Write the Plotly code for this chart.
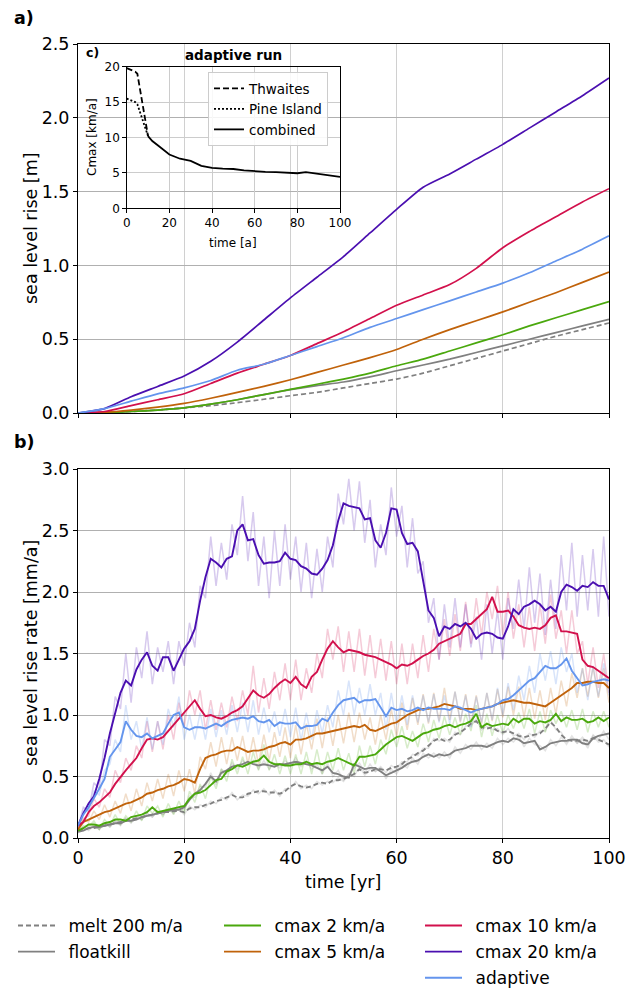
import plotly.graph_objects as go

FONT = "DejaVu Sans"

# ---------------- panel a: cumulative sea level rise [m] ----------------
years_a = [0, 5, 10, 15, 20, 25, 30, 35, 40, 45, 50, 55, 60, 65, 70, 75, 80, 85, 90, 95, 100]
a_melt = [0, 0.003, 0.01, 0.02, 0.035, 0.05, 0.07, 0.093, 0.117, 0.14, 0.17, 0.20, 0.23, 0.27, 0.32, 0.37, 0.42, 0.47, 0.52, 0.565, 0.61]
a_floatkill = [0, 0.003, 0.01, 0.02, 0.035, 0.06, 0.09, 0.125, 0.158, 0.185, 0.21, 0.245, 0.286, 0.325, 0.365, 0.41, 0.455, 0.50, 0.545, 0.59, 0.635]
a_cmax2 = [0, 0.003, 0.01, 0.02, 0.035, 0.06, 0.09, 0.125, 0.16, 0.195, 0.23, 0.27, 0.32, 0.365, 0.42, 0.475, 0.53, 0.59, 0.645, 0.70, 0.755]
a_cmax5 = [0, 0.005, 0.02, 0.04, 0.065, 0.10, 0.14, 0.18, 0.225, 0.275, 0.325, 0.375, 0.43, 0.50, 0.565, 0.625, 0.685, 0.75, 0.815, 0.885, 0.955]
a_cmax10 = [0, 0.01, 0.05, 0.09, 0.13, 0.20, 0.27, 0.33, 0.39, 0.47, 0.55, 0.64, 0.73, 0.80, 0.87, 0.98, 1.12, 1.23, 1.33, 1.43, 1.52]
a_cmax20 = [0, 0.03, 0.11, 0.18, 0.25, 0.35, 0.48, 0.63, 0.78, 0.92, 1.06, 1.22, 1.38, 1.53, 1.62, 1.72, 1.82, 1.93, 2.04, 2.15, 2.27]
a_adaptive = [0, 0.03, 0.08, 0.13, 0.17, 0.22, 0.29, 0.33, 0.39, 0.45, 0.51, 0.58, 0.64, 0.70, 0.76, 0.82, 0.88, 0.95, 1.03, 1.11, 1.20]

# ---------------- panel b: sea level rise rate [mm/a] ----------------
years_b = list(range(0, 101))
b_melt = [0.06, 0.07, 0.08, 0.08, 0.09, 0.10, 0.11, 0.12, 0.13, 0.14, 0.15, 0.16, 0.17, 0.18, 0.19, 0.20, 0.21, 0.21, 0.22, 0.22,
          0.21, 0.24, 0.25, 0.25, 0.27, 0.28, 0.30, 0.31, 0.33, 0.35, 0.33, 0.33, 0.36, 0.37, 0.38, 0.38, 0.37, 0.37, 0.36, 0.38,
          0.42, 0.44, 0.42, 0.41, 0.42, 0.44, 0.45, 0.44, 0.47, 0.47, 0.48, 0.50, 0.52, 0.56, 0.53, 0.54, 0.56, 0.56, 0.55, 0.57,
          0.58, 0.60, 0.64, 0.66, 0.69, 0.71, 0.75, 0.79, 0.81, 0.79, 0.80, 0.84, 0.86, 0.89, 0.93, 0.95, 0.90, 0.89, 0.90, 0.87,
          0.86, 0.87, 0.85, 0.83, 0.82, 0.83, 0.84, 0.85, 0.89, 0.94, 0.90, 0.84, 0.80, 0.79, 0.79, 0.80, 0.79, 0.81, 0.80, 0.78, 0.76]
b_floatkill = [0.05, 0.06, 0.08, 0.09, 0.09, 0.10, 0.11, 0.12, 0.12, 0.14, 0.14, 0.15, 0.17, 0.18, 0.19, 0.20, 0.21, 0.22, 0.23, 0.23,
               0.25, 0.31, 0.36, 0.39, 0.44, 0.50, 0.46, 0.53, 0.55, 0.58, 0.59, 0.60, 0.62, 0.60, 0.59, 0.60, 0.59, 0.58, 0.60, 0.60,
               0.61, 0.62, 0.61, 0.60, 0.59, 0.57, 0.55, 0.58, 0.53, 0.52, 0.50, 0.49, 0.60, 0.58, 0.56, 0.57, 0.57, 0.54, 0.51, 0.53,
               0.55, 0.57, 0.60, 0.62, 0.63, 0.66, 0.68, 0.66, 0.68, 0.67, 0.68, 0.71, 0.72, 0.73, 0.75, 0.75, 0.75, 0.74, 0.76, 0.78,
               0.79, 0.78, 0.81, 0.80, 0.77, 0.78, 0.79, 0.72, 0.74, 0.77, 0.78, 0.79, 0.79, 0.80, 0.80, 0.77, 0.76, 0.81, 0.83, 0.84, 0.85]
b_cmax2 = [0.06, 0.08, 0.11, 0.11, 0.10, 0.12, 0.13, 0.15, 0.15, 0.14, 0.17, 0.18, 0.19, 0.21, 0.25, 0.21, 0.22, 0.23, 0.24, 0.25,
           0.26, 0.32, 0.36, 0.37, 0.39, 0.43, 0.47, 0.48, 0.54, 0.56, 0.59, 0.58, 0.60, 0.62, 0.63, 0.67, 0.62, 0.60, 0.60, 0.59,
           0.59, 0.60, 0.60, 0.62, 0.60, 0.61, 0.60, 0.62, 0.63, 0.65, 0.63, 0.61, 0.59, 0.66, 0.66, 0.67, 0.68, 0.72, 0.76, 0.79,
           0.82, 0.83, 0.81, 0.79, 0.82, 0.85, 0.86, 0.88, 0.89, 0.91, 0.92, 0.90, 0.92, 0.93, 0.95, 1.01, 0.90, 0.93, 0.91, 0.92,
           0.93, 0.92, 0.97, 0.94, 0.97, 0.97, 0.93, 0.95, 0.94, 0.96, 1.01, 0.95, 0.98, 0.96, 0.96, 0.97, 0.94, 0.95, 0.98, 0.95, 0.98]
b_cmax5 = [0.07, 0.13, 0.15, 0.17, 0.19, 0.21, 0.22, 0.24, 0.26, 0.28, 0.29, 0.31, 0.33, 0.36, 0.37, 0.39, 0.40, 0.42, 0.43, 0.45,
           0.48, 0.47, 0.45, 0.56, 0.65, 0.67, 0.68, 0.70, 0.71, 0.71, 0.74, 0.72, 0.70, 0.71, 0.71, 0.72, 0.74, 0.75, 0.77, 0.78,
           0.76, 0.80, 0.80, 0.81, 0.83, 0.85, 0.85, 0.86, 0.87, 0.88, 0.89, 0.90, 0.91, 0.90, 0.92, 0.88, 0.87, 0.89, 0.91, 0.93,
           0.94, 0.97, 1.00, 1.02, 1.04, 1.05, 1.05, 1.06, 1.07, 1.09, 1.08, 1.07, 1.05, 1.05, 1.05, 1.04, 1.05, 1.06, 1.07, 1.09,
           1.10, 1.11, 1.12, 1.11, 1.10, 1.10, 1.09, 1.08, 1.07, 1.10, 1.13, 1.16, 1.19, 1.22, 1.26, 1.26, 1.27, 1.27, 1.26, 1.26, 1.22]
b_cmax10 = [0.10, 0.13, 0.21, 0.26, 0.29, 0.33, 0.37, 0.44, 0.50, 0.55, 0.60, 0.65, 0.73, 0.80, 0.81, 0.80, 0.82, 0.87, 0.92, 0.97,
            1.02, 1.07, 1.12, 1.05, 0.99, 1.00, 0.98, 0.97, 0.99, 1.02, 1.04, 1.07, 1.14, 1.20, 1.16, 1.14, 1.17, 1.22, 1.26, 1.29,
            1.26, 1.31, 1.25, 1.22, 1.31, 1.35, 1.45, 1.54, 1.60, 1.55, 1.51, 1.53, 1.52, 1.51, 1.49, 1.48, 1.47, 1.45, 1.43, 1.41,
            1.38, 1.41, 1.40, 1.42, 1.45, 1.48, 1.50, 1.53, 1.58, 1.60, 1.62, 1.64, 1.66, 1.74, 1.74, 1.78, 1.82, 1.86, 1.96, 1.84,
            1.84, 1.85, 1.80, 1.73, 1.71, 1.70, 1.71, 1.70, 1.73, 1.79, 1.81, 1.68, 1.68, 1.67, 1.66, 1.45, 1.40, 1.39, 1.36, 1.33, 1.30]
b_cmax20 = [0.10, 0.20, 0.28, 0.34, 0.48, 0.65, 0.85, 1.02, 1.18, 1.28, 1.24, 1.37, 1.45, 1.51, 1.40, 1.36, 1.47, 1.47, 1.36, 1.45,
            1.54, 1.60, 1.70, 1.93, 2.12, 2.27, 2.24, 2.20, 2.27, 2.29, 2.50, 2.55, 2.42, 2.43, 2.30, 2.23, 2.24, 2.24, 2.25, 2.32,
            2.27, 2.26, 2.21, 2.19, 2.15, 2.14, 2.19, 2.26, 2.38, 2.58, 2.72, 2.70, 2.69, 2.68, 2.59, 2.60, 2.42, 2.36, 2.48, 2.68,
            2.67, 2.48, 2.39, 2.40, 2.33, 2.08, 1.85, 1.79, 1.64, 1.72, 1.70, 1.74, 1.72, 1.75, 1.70, 1.62, 1.66, 1.67, 1.66, 1.63,
            1.62, 1.72, 1.86, 1.82, 1.88, 1.90, 1.93, 1.90, 1.85, 1.88, 1.84, 2.00, 2.06, 2.04, 2.01, 2.05, 2.04, 2.08, 2.05, 2.05, 1.94]
b_adaptive = [0.10, 0.19, 0.25, 0.32, 0.40, 0.48, 0.66, 0.72, 0.78, 0.95, 0.88, 0.83, 0.82, 0.85, 0.81, 0.83, 0.85, 0.93, 1.00, 1.02,
              0.90, 0.88, 0.90, 0.90, 0.89, 0.91, 0.93, 0.91, 0.94, 0.96, 0.97, 0.98, 0.97, 0.99, 0.95, 0.94, 0.96, 0.91, 0.94, 0.93,
              0.93, 0.94, 0.89, 0.91, 0.91, 0.92, 0.97, 0.95, 1.02, 1.08, 1.12, 1.13, 1.14, 1.10, 1.12, 1.12, 1.13, 1.06, 0.99, 1.06,
              1.04, 1.05, 1.03, 1.04, 1.06, 1.04, 1.06, 1.05, 1.05, 1.05, 1.04, 1.07, 1.06, 1.04, 1.02, 1.04, 1.05, 1.06, 1.07, 1.09,
              1.12, 1.13, 1.16, 1.20, 1.24, 1.28, 1.30, 1.35, 1.40, 1.38, 1.38, 1.41, 1.46, 1.36, 1.30, 1.24, 1.25, 1.27, 1.28, 1.29, 1.28]

# raw (unsmoothed) rates, drawn faintly behind
r_melt = [0.05, 0.09, 0.06, 0.10, 0.07, 0.12, 0.09, 0.14, 0.11, 0.16, 0.13, 0.18, 0.15, 0.20, 0.17, 0.22, 0.19, 0.23, 0.20, 0.24,
          0.19, 0.26, 0.23, 0.27, 0.25, 0.30, 0.28, 0.33, 0.31, 0.37, 0.31, 0.35, 0.34, 0.39, 0.36, 0.40, 0.35, 0.39, 0.34, 0.40,
          0.40, 0.46, 0.40, 0.43, 0.40, 0.46, 0.43, 0.46, 0.45, 0.49, 0.46, 0.52, 0.50, 0.58, 0.51, 0.56, 0.54, 0.58, 0.53, 0.59,
          0.56, 0.62, 0.62, 0.68, 0.67, 0.73, 0.73, 0.81, 0.79, 0.81, 0.78, 0.86, 0.84, 0.91, 0.91, 0.97, 0.88, 0.91, 0.88, 0.89,
          0.84, 0.89, 0.83, 0.85, 0.80, 0.85, 0.82, 0.87, 0.87, 0.96, 0.88, 0.86, 0.78, 0.81, 0.77, 0.82, 0.77, 0.83, 0.78, 0.80, 0.74]
r_floatkill = [0.04, 0.08, 0.07, 0.11, 0.07, 0.12, 0.09, 0.14, 0.10, 0.16, 0.12, 0.17, 0.15, 0.20, 0.17, 0.22, 0.19, 0.24, 0.21, 0.25,
               0.23, 0.34, 0.33, 0.42, 0.41, 0.53, 0.43, 0.56, 0.52, 0.61, 0.56, 0.63, 0.59, 0.63, 0.56, 0.63, 0.56, 0.61, 0.57, 0.63,
               0.58, 0.65, 0.58, 0.63, 0.56, 0.60, 0.52, 0.61, 0.50, 0.55, 0.47, 0.52, 0.57, 0.61, 0.53, 0.60, 0.54, 0.57, 0.48, 0.56,
               0.52, 0.60, 0.57, 0.65, 0.60, 0.69, 0.65, 0.69, 0.65, 0.70, 0.65, 0.74, 0.69, 0.76, 0.72, 0.78, 0.72, 0.77, 0.73, 0.81,
               0.76, 0.81, 0.78, 0.83, 0.74, 0.81, 0.76, 0.75, 0.71, 0.80, 0.75, 0.82, 0.76, 0.83, 0.77, 0.80, 0.73, 0.84, 0.80, 0.87, 0.80]
r_cmax2 = [0.05, 0.10, 0.09, 0.14, 0.07, 0.15, 0.10, 0.19, 0.11, 0.18, 0.13, 0.22, 0.14, 0.26, 0.20, 0.26, 0.17, 0.28, 0.19, 0.30,
           0.20, 0.38, 0.29, 0.44, 0.32, 0.50, 0.40, 0.56, 0.46, 0.64, 0.52, 0.66, 0.52, 0.70, 0.55, 0.76, 0.55, 0.68, 0.52, 0.67,
           0.52, 0.68, 0.52, 0.70, 0.52, 0.72, 0.52, 0.70, 0.55, 0.73, 0.55, 0.69, 0.52, 0.75, 0.58, 0.75, 0.60, 0.80, 0.68, 0.88,
           0.74, 0.91, 0.73, 0.87, 0.74, 0.93, 0.78, 0.96, 0.81, 0.99, 0.84, 0.98, 0.84, 1.01, 0.87, 1.08, 0.82, 1.01, 0.83, 1.00,
           0.85, 1.00, 0.89, 1.02, 0.89, 1.05, 0.85, 1.03, 0.86, 1.04, 0.93, 1.03, 0.90, 1.04, 0.88, 1.05, 0.86, 1.03, 0.90, 1.03, 0.90]
r_cmax5 = [0.06, 0.15, 0.13, 0.22, 0.15, 0.27, 0.17, 0.30, 0.20, 0.36, 0.22, 0.40, 0.26, 0.45, 0.30, 0.48, 0.32, 0.52, 0.34, 0.55,
           0.38, 0.56, 0.36, 0.66, 0.56, 0.78, 0.58, 0.82, 0.60, 0.82, 0.63, 0.83, 0.60, 0.82, 0.60, 0.84, 0.63, 0.86, 0.66, 0.90,
           0.65, 0.92, 0.68, 0.93, 0.72, 0.97, 0.73, 0.98, 0.75, 1.00, 0.77, 1.02, 0.78, 1.02, 0.80, 0.98, 0.76, 1.00, 0.80, 1.05,
           0.82, 1.10, 0.88, 1.14, 0.92, 1.17, 0.93, 1.18, 0.95, 1.22, 0.96, 1.19, 0.94, 1.17, 0.93, 1.16, 0.93, 1.18, 0.95, 1.21,
           0.98, 1.23, 1.00, 1.23, 0.98, 1.22, 0.97, 1.20, 0.96, 1.22, 1.01, 1.28, 1.07, 1.34, 1.14, 1.38, 1.15, 1.39, 1.14, 1.38, 1.10]
r_cmax10 = [0.09, 0.16, 0.18, 0.32, 0.25, 0.40, 0.33, 0.55, 0.45, 0.65, 0.55, 0.75, 0.65, 0.95, 0.70, 0.95, 0.72, 1.00, 0.80, 1.10,
            0.90, 1.20, 1.00, 1.20, 0.88, 1.12, 0.88, 1.10, 0.90, 1.15, 0.95, 1.20, 1.00, 1.40, 1.02, 1.30, 1.05, 1.35, 1.12, 1.42,
            1.12, 1.45, 1.12, 1.38, 1.18, 1.50, 1.30, 1.70, 1.45, 1.72, 1.35, 1.68, 1.35, 1.70, 1.32, 1.65, 1.30, 1.62, 1.28, 1.60,
            1.25, 1.58, 1.25, 1.58, 1.30, 1.65, 1.35, 1.70, 1.45, 1.78, 1.48, 1.82, 1.52, 1.92, 1.58, 1.95, 1.65, 2.00, 1.78, 2.05,
            1.65, 2.00, 1.62, 1.90, 1.55, 1.88, 1.52, 1.90, 1.58, 1.98, 1.62, 1.85, 1.50, 1.85, 1.50, 1.60, 1.25, 1.55, 1.22, 1.50, 1.18]
r_cmax20 = [0.08, 0.25, 0.22, 0.45, 0.40, 0.80, 0.75, 1.15, 1.05, 1.50, 1.10, 1.55, 1.30, 1.68, 1.25, 1.55, 1.35, 1.60, 1.25, 1.60,
            1.40, 1.75, 1.55, 2.05, 1.95, 2.45, 2.05, 2.40, 2.10, 2.55, 2.30, 2.78, 2.25, 2.65, 2.05, 2.45, 1.95, 2.50, 2.05, 2.55,
            2.10, 2.45, 2.00, 2.40, 1.95, 2.35, 2.00, 2.45, 2.20, 2.80, 2.55, 2.92, 2.50, 2.90, 2.40, 2.75, 2.20, 2.55, 2.30, 2.85,
            2.45, 2.70, 2.20, 2.60, 2.15, 2.25, 1.75, 1.95, 1.45, 1.90, 1.55, 1.95, 1.55, 1.90, 1.55, 1.80, 1.45, 1.90, 1.50, 1.85,
            1.45, 1.95, 1.70, 2.10, 1.70, 2.20, 1.75, 2.15, 1.65, 2.10, 1.70, 2.30, 1.85, 2.40, 1.80, 2.30, 1.85, 2.35, 1.80, 2.45, 1.80]
r_adaptive = [0.09, 0.22, 0.22, 0.38, 0.35, 0.55, 0.60, 0.80, 0.70, 1.08, 0.80, 0.95, 0.72, 0.98, 0.72, 0.95, 0.76, 1.05, 0.90, 1.15,
              0.80, 1.00, 0.80, 1.02, 0.80, 1.05, 0.82, 1.04, 0.84, 1.08, 0.86, 1.10, 0.86, 1.12, 0.84, 1.06, 0.86, 1.03, 0.83, 1.05,
              0.82, 1.06, 0.79, 1.02, 0.80, 1.04, 0.85, 1.08, 0.90, 1.20, 1.00, 1.28, 1.00, 1.22, 1.00, 1.25, 1.00, 1.18, 0.88, 1.18,
              0.92, 1.16, 0.92, 1.16, 0.94, 1.16, 0.94, 1.17, 0.94, 1.16, 0.93, 1.19, 0.95, 1.16, 0.90, 1.15, 0.94, 1.18, 0.96, 1.22,
              1.00, 1.26, 1.04, 1.32, 1.12, 1.40, 1.18, 1.50, 1.28, 1.52, 1.25, 1.55, 1.35, 1.50, 1.18, 1.38, 1.12, 1.40, 1.15, 1.42, 1.16]

# ---------------- inset c: adaptive run Cmax [km/a] ----------------
c_thw_t = [0, 4, 5, 10]
c_thw = [19.8, 19.3, 19.0, 10.2]
c_pig_t = [0, 4, 5, 10]
c_pig = [15.5, 15.0, 14.7, 10.2]
c_comb_t = [10, 12, 15, 20, 25, 30, 35, 40, 45, 50, 55, 60, 65, 70, 75, 80, 84, 90, 95, 100]
c_comb = [10.2, 9.5, 8.8, 7.6, 7.0, 6.7, 6.0, 5.7, 5.6, 5.55, 5.35, 5.2, 5.15, 5.1, 5.05, 4.95, 5.1, 4.85, 4.65, 4.45]

names = ["melt 200 m/a", "floatkill", "cmax 2 km/a", "cmax 5 km/a", "cmax 10 km/a", "cmax 20 km/a", "adaptive"]
colors = ["#808080", "#808080", "#4aa80d", "#c0620a", "#d2104c", "#4a0fb0", "#6495ed"]
raw_colors = ["rgba(128,128,128,0.22)", "rgba(128,128,128,0.22)", "rgba(74,168,13,0.22)", "rgba(192,98,10,0.22)",
              "rgba(210,16,76,0.22)", "rgba(74,15,176,0.22)", "rgba(100,149,237,0.25)"]
dashes = ["dash", "solid", "solid", "solid", "solid", "solid", "solid"]
legends = ["legend", "legend", "legend2", "legend2", "legend3", "legend3", "legend3"]
a_series = [a_melt, a_floatkill, a_cmax2, a_cmax5, a_cmax10, a_cmax20, a_adaptive]
b_series = [b_melt, b_floatkill, b_cmax2, b_cmax5, b_cmax10, b_cmax20, b_adaptive]
r_series = [r_melt, r_floatkill, r_cmax2, r_cmax5, r_cmax10, r_cmax20, r_adaptive]

fig = go.Figure()

# panel a
for n, c, d, ys in zip(names, colors, dashes, a_series):
    fig.add_trace(go.Scatter(x=years_a, y=ys, mode="lines", line=dict(color=c, width=1.7, dash=d if d == "solid" else "5px,3px", shape="spline", smoothing=0.6),
                             xaxis="x", yaxis="y", showlegend=False, name=n))

# panel b raw
for n, c, ys in zip(names, raw_colors, r_series):
    fig.add_trace(go.Scatter(x=years_b, y=ys, mode="lines", line=dict(color=c, width=1.5),
                             xaxis="x2", yaxis="y2", showlegend=False, name=n + " raw"))
# panel b smoothed
for n, c, d, lg, ys in zip(names, colors, dashes, legends, b_series):
    fig.add_trace(go.Scatter(x=years_b, y=ys, mode="lines", line=dict(color=c, width=1.9, dash=d if d == "solid" else "5px,3px"),
                             xaxis="x2", yaxis="y2", name="\u2002" + n, legend=lg, legendgroup=n))

# inset c
fig.add_trace(go.Scatter(x=c_thw_t, y=c_thw, mode="lines", line=dict(color="black", width=1.8, dash="6px,3px"),
                         xaxis="x3", yaxis="y3", name="Thwaites", legend="legend4"))
fig.add_trace(go.Scatter(x=c_pig_t, y=c_pig, mode="lines", line=dict(color="black", width=1.8, dash="2px,2px"),
                         xaxis="x3", yaxis="y3", name="Pine Island", legend="legend4"))
fig.add_trace(go.Scatter(x=c_comb_t, y=c_comb, mode="lines", line=dict(color="black", width=1.8),
                         xaxis="x3", yaxis="y3", name="combined", legend="legend4"))

W, H = 626, 988
def px(xp):
    return xp / W
def py(yp):
    return 1 - yp / H

FS = 17.5
axis_common = dict(showline=True, linecolor="black", linewidth=1, mirror=True, ticks="outside", ticklen=4,
                   tickcolor="black", zeroline=False, automargin=False, tickfont=dict(family=FONT, size=FS, color="black"))
inset_common = dict(showgrid=True, gridcolor="#cccccc", showline=True, linecolor="black", linewidth=1, mirror=True,
                    ticks="outside", ticklen=3.5, tickcolor="black", zeroline=False, automargin=False,
                    tickfont=dict(family=FONT, size=12, color="black"))
leg_common = dict(yanchor="top", xanchor="left", bgcolor="rgba(0,0,0,0)", font=dict(family=FONT, size=17, color="black"),
                  itemwidth=37, tracegroupgap=1)

fig.update_layout(
    width=W, height=H, margin=dict(l=0, r=0, t=0, b=0, autoexpand=False),
    paper_bgcolor="white", plot_bgcolor="rgba(0,0,0,0)",
    font=dict(family=FONT, color="black"),
    xaxis=dict(domain=[px(78), px(609)], anchor="y", range=[0, 100], tickvals=[0, 20, 40, 60, 80, 100],
               showticklabels=False, showgrid=True, gridcolor="#d0d0d0", **axis_common),
    yaxis=dict(domain=[py(413), py(44)], anchor="x", range=[0, 2.5], tickvals=[0, 0.5, 1.0, 1.5, 2.0, 2.5],
               ticktext=["0.0", "0.5", "1.0", "1.5", "2.0", "2.5"], showgrid=True, gridcolor="#b0b0b0", **axis_common),
    xaxis2=dict(domain=[px(78), px(609)], anchor="y2", range=[0, 100], tickvals=[0, 20, 40, 60, 80, 100],
                showgrid=True, gridcolor="#d0d0d0", **axis_common),
    yaxis2=dict(domain=[py(838), py(469)], anchor="x2", range=[0, 3], tickvals=[0, 0.5, 1.0, 1.5, 2.0, 2.5, 3.0],
                ticktext=["0.0", "0.5", "1.0", "1.5", "2.0", "2.5", "3.0"], showgrid=True, gridcolor="#b0b0b0", **axis_common),
    xaxis3=dict(domain=[px(126.7), px(340)], anchor="y3", range=[0, 100], tickvals=[0, 20, 40, 60, 80, 100], **inset_common),
    yaxis3=dict(domain=[py(208.3), py(66.7)], anchor="x3", range=[0, 20], tickvals=[0, 5, 10, 15, 20], **inset_common),
    legend=dict(x=px(13), y=py(908), **leg_common),
    legend2=dict(x=px(219), y=py(908), **leg_common),
    legend3=dict(x=px(420), y=py(908), **leg_common),
    legend4=dict(x=px(208), y=py(72), xanchor="left", yanchor="top", bgcolor="rgba(255,255,255,0.85)",
                 bordercolor="#cccccc", borderwidth=1, font=dict(family=FONT, size=13.5, color="black"), itemwidth=30),
)

annotations = [
    dict(text="<b>a)</b>", x=px(12), y=py(18), xanchor="left", yanchor="middle", font=dict(size=FS)),
    dict(text="<b>b)</b>", x=px(12), y=py(442), xanchor="left", yanchor="middle", font=dict(size=FS)),
    dict(text="sea level rise [m]", x=px(31), y=py(228), textangle=-90, xanchor="center", yanchor="middle", font=dict(size=FS)),
    dict(text="sea level rise rate [mm/a]", x=px(31), y=py(653), textangle=-90, xanchor="center", yanchor="middle", font=dict(size=FS)),
    dict(text="time [yr]", x=px(343), y=py(882), xanchor="center", yanchor="middle", font=dict(size=FS)),
    dict(text="<b>c)</b>", x=px(84), y=py(53), xanchor="left", yanchor="middle", font=dict(size=12.5)),
    dict(text="<b>adaptive run</b>", x=px(233), y=py(55), xanchor="center", yanchor="middle", font=dict(size=13.5)),
    dict(text="Cmax [km/a]", x=px(92), y=py(137), textangle=-90, xanchor="center", yanchor="middle", font=dict(size=12)),
    dict(text="time [a]", x=px(233), y=py(243), xanchor="center", yanchor="middle", font=dict(size=12)),
]
for a in annotations:
    a.update(xref="paper", yref="paper", showarrow=False)
    a["font"] = dict(family=FONT, color="black", **a["font"])
fig.update_layout(annotations=annotations)

fig.write_html("out.html")
